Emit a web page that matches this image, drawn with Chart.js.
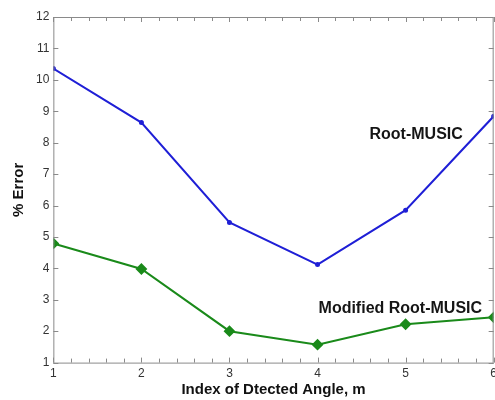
<!DOCTYPE html>
<html>
<head>
<meta charset="utf-8">
<script src="https://cdn.jsdelivr.net/npm/chart.js@4"></script>
<style>
  html, body { margin: 0; padding: 0; background: #fff; overflow: hidden; }
  #wrap { width: 495px; height: 400px; overflow: hidden; }
</style>
</head>
<body>
<div id="wrap"><canvas id="errChart" width="501" height="400"></canvas></div>
<script>
const angleIndex = [1, 2, 3, 4, 5, 6];
const rootMusic = [10.36, 8.64, 5.46, 4.12, 5.85, 8.84];
const modifiedRootMusic = [4.79, 3.98, 2.0, 1.57, 2.22, 2.44];
const yTicks = [1, 2, 3, 4, 5, 6, 7, 8, 9, 10, 11, 12];
// text labels next to the curves, in data units
const curveLabels = ["Root-MUSIC", "Modified Root-MUSIC"];
const curveLabelX = [5.12, 4.94];
const curveLabelY = [8.27, 2.72];

const FONT = "'Liberation Sans', Arial, Helvetica, sans-serif";

// box + inward ticks, like a MATLAB axes
const boxTicks = {
  id: "boxTicks",
  afterDraw(chart) {
    const { ctx, chartArea: a, scales: { x, y } } = chart;
    ctx.save();
    ctx.strokeStyle = "#8a8a8a";
    ctx.lineWidth = 1;
    ctx.strokeRect(a.left + 0.5, a.top + 0.5, a.right - a.left - 1, a.bottom - a.top);
    ctx.beginPath();
    yTicks.forEach(v => {
      const py = Math.round(y.getPixelForValue(v)) + 0.5;
      ctx.moveTo(a.left, py); ctx.lineTo(a.left + 5, py);
      ctx.moveTo(a.right, py); ctx.lineTo(a.right - 5, py);
    });
    for (let i = 0; i <= 25; i++) {
      const v = 1 + i * 0.2;
      const px = Math.round(x.getPixelForValue(v)) + 0.5;
      const len = i % 5 === 0 ? 5 : 4;
      ctx.moveTo(px, a.bottom); ctx.lineTo(px, a.bottom - len);
      ctx.moveTo(px, a.top); ctx.lineTo(px, a.top + len);
    }
    ctx.stroke();

    ctx.fillStyle = "#151515";
    ctx.font = "bold 16px " + FONT;
    ctx.textAlign = "center";
    ctx.textBaseline = "middle";
    curveLabels.forEach((t, i) => {
      ctx.fillText(t, x.getPixelForValue(curveLabelX[i]), y.getPixelForValue(curveLabelY[i]));
    });
    ctx.restore();
  }
};

new Chart(document.getElementById("errChart"), {
  type: "line",
  data: {
    labels: angleIndex,
    datasets: [
      {
        label: "Root-MUSIC",
        data: angleIndex.map((v, i) => ({ x: v, y: rootMusic[i] })),
        borderColor: "#1f1fd6",
        backgroundColor: "#1f1fd6",
        borderWidth: 2,
        pointRadius: 1.5,
        tension: 0
      },
      {
        label: "Modified Root-MUSIC",
        data: angleIndex.map((v, i) => ({ x: v, y: modifiedRootMusic[i] })),
        borderColor: "#1a8a1a",
        backgroundColor: "#1a8a1a",
        borderWidth: 2,
        pointStyle: "rectRot",
        pointRadius: 4.5,
        tension: 0
      }
    ]
  },
  options: {
    responsive: false,
    animation: false,
    layout: { padding: { left: 6, right: 0, top: 17, bottom: 0 } },
    plugins: { legend: { display: false }, tooltip: { enabled: false } },
    scales: {
      x: {
        type: "linear",
        min: 1,
        max: 6,
        grid: { display: false, drawTicks: false },
        border: { display: false },
        ticks: {
          stepSize: 1,
          padding: 4,
          color: "#333",
          font: { family: FONT, size: 12 }
        },
        title: {
          display: true,
          text: "Index of Dtected Angle, m",
          color: "#111",
          font: { family: FONT, size: 15, weight: "bold" },
          padding: { top: -4, bottom: 1 }
        }
      },
      y: {
        min: 1,
        max: 12,
        afterBuildTicks(s) { s.ticks = yTicks.map(v => ({ value: v })); },
        grid: { display: false, drawTicks: false },
        border: { display: false },
        ticks: {
          padding: 4,
          color: "#333",
          font: { family: FONT, size: 12 }
        },
        title: {
          display: true,
          text: "% Error",
          color: "#111",
          font: { family: FONT, size: 15, weight: "bold" },
          padding: { top: 4, bottom: 4 }
        }
      }
    }
  },
  plugins: [boxTicks]
});
</script>
</body>
</html>
